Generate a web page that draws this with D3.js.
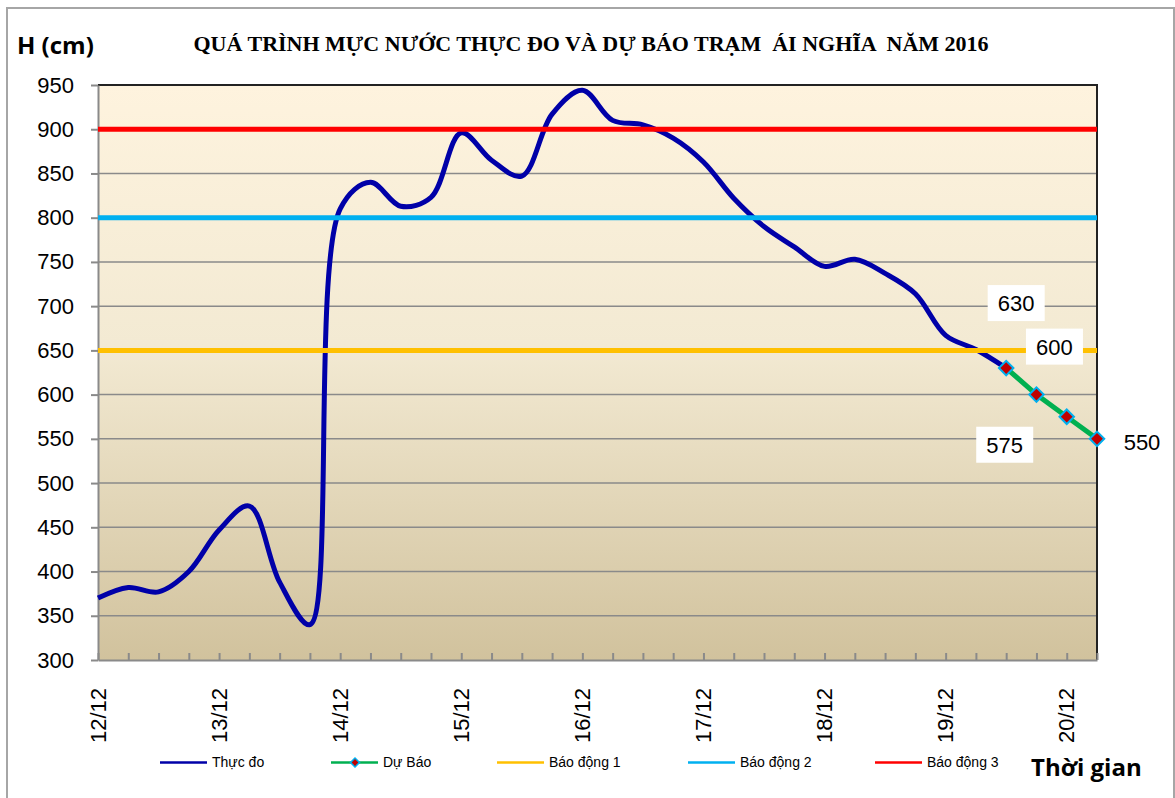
<!DOCTYPE html>
<html>
<head>
<meta charset="UTF-8">
<title>Mực nước Ái Nghĩa 2016</title>
<script src="https://d3js.org/d3.v7.min.js"></script>
<style>
    body { margin: 0; background: #fff; }
    svg text { font-family: "Liberation Sans", Arial, sans-serif; fill: #000; }
    .grid line { stroke: #8a8a8a; stroke-width: 1.5px; }
    .axis path, .axis line { stroke: #8a8a8a; stroke-width: 2px; }
</style>
</head>
<body>
<svg id="chart" width="1175" height="798"></svg>
<script>
    // categories: 4 readings per day, label only at the start of each day
    var categories = ["12/12", "", "", "", "13/12", "", "", "", "14/12", "", "", "", "15/12", "", "", "",
        "16/12", "", "", "", "17/12", "", "", "", "18/12", "", "", "", "19/12", "", "", "", "20/12", ""];
    var thucDo = [370, 382, 377, 400, 447, 474, 388, 340, 810, 840, 813, 823, 896, 865, 847, 917,
        944, 910, 905, 890, 863, 822, 790, 767, 745, 753, 737, 714, 667, 651, 630];
    var duBao = [630, 600, 575, 550];
    var duBaoStart = 30;
    var alarmLevels = [650, 800, 900];
    var alarmNames = ["Báo động 1", "Báo động 2", "Báo động 3"];
    var yTicks = [300, 350, 400, 450, 500, 550, 600, 650, 700, 750, 800, 850, 900, 950];

    var alarmColors = ["#FFC000", "#00B0F0", "#FF0000"];
    var labelDx = [10, 18, -62, 45], labelDy = [-65, -48, 28, 3];

    var svg = d3.select("#chart");
    var pLeft = 98, pRight = 1097, pTop = 85, pBottom = 660;

    var x = d3.scaleLinear().domain([0, categories.length - 1]).range([pLeft, pRight]);
    var y = d3.scaleLinear().domain([300, 950]).range([pBottom, pTop]);

    // outer frame
    svg.append("path")
        .attr("d", "M7,800V8H1174V800")
        .attr("fill", "none").attr("stroke", "#a6a6a6").attr("stroke-width", 2);

    var grad = svg.append("defs").append("linearGradient")
        .attr("id", "bg").attr("x1", 0).attr("y1", 0).attr("x2", 0).attr("y2", 1);
    grad.append("stop").attr("offset", "0%").attr("stop-color", "#FEF3DE");
    grad.append("stop").attr("offset", "45%").attr("stop-color", "#F3EAD3");
    grad.append("stop").attr("offset", "100%").attr("stop-color", "#D1C29D");

    svg.append("rect")
        .attr("x", pLeft).attr("y", pTop)
        .attr("width", pRight - pLeft).attr("height", pBottom - pTop)
        .attr("fill", "url(#bg)");

    // gridlines
    svg.append("g").attr("class", "grid")
        .selectAll("line")
        .data(yTicks.slice(1, -1))
        .enter().append("line")
        .attr("x1", pLeft).attr("x2", pRight)
        .attr("y1", d => y(d)).attr("y2", d => y(d));

    // top / right border
    svg.append("path")
        .attr("d", "M" + pLeft + "," + pTop + "H" + pRight + "V" + pBottom)
        .attr("fill", "none").attr("stroke", "#222").attr("stroke-width", 2);

    // y axis
    var yAxis = svg.append("g").attr("class", "axis")
        .attr("transform", "translate(" + pLeft + ",0)")
        .call(d3.axisLeft(y).tickValues(yTicks).tickSize(7).tickSizeOuter(0).tickPadding(17));
    yAxis.selectAll("text").style("font-size", "22px");

    // x axis, ticks inward
    svg.append("g").attr("class", "axis")
        .attr("transform", "translate(0," + pBottom + ")")
        .call(d3.axisBottom(x).tickValues(d3.range(categories.length)).tickSize(-7).tickSizeOuter(0).tickFormat(""));

    svg.append("g").selectAll("text")
        .data(categories.map((c, i) => ({ c: c, i: i })).filter(d => d.c))
        .enter().append("text")
        .attr("transform", d => "translate(" + x(d.i) + ",688) rotate(-90)")
        .attr("text-anchor", "end")
        .attr("dy", "0.35em")
        .style("font-size", "22px")
        .text(d => d.c);

    var line = d3.line().curve(d3.curveCatmullRom.alpha(0.5));

    // observed
    svg.append("path")
        .attr("d", line(thucDo.map((v, i) => [x(i), y(v)])))
        .attr("fill", "none").attr("stroke", "#0000A8").attr("stroke-width", 5)
        .attr("stroke-linejoin", "round");

    // forecast
    var fc = duBao.map((v, i) => [x(duBaoStart + i), y(v)]);
    svg.append("path")
        .attr("d", d3.line()(fc))
        .attr("fill", "none").attr("stroke", "#00B050").attr("stroke-width", 5);

    // alarm levels
    svg.append("g").selectAll("line")
        .data(alarmLevels)
        .enter().append("line")
        .attr("x1", pLeft).attr("x2", pRight)
        .attr("y1", d => y(d)).attr("y2", d => y(d))
        .attr("stroke", (d, i) => alarmColors[i]).attr("stroke-width", 5);

    var diamond = d3.symbol().type(d3.symbolSquare).size(105);
    svg.append("g").selectAll("path")
        .data(fc)
        .enter().append("path")
        .attr("d", diamond)
        .attr("transform", d => "translate(" + d[0] + "," + d[1] + ") rotate(45)")
        .attr("fill", "#C00000").attr("stroke", "#00B0F0").attr("stroke-width", 2);

    // data labels
    var lab = svg.append("g").selectAll("g")
        .data(duBao)
        .enter().append("g")
        .attr("transform", (d, i) => "translate(" + (fc[i][0] + labelDx[i]) + "," + (fc[i][1] + labelDy[i]) + ")");
    lab.append("rect")
        .attr("x", -28.5).attr("y", -18).attr("width", 57).attr("height", 36)
        .attr("fill", "#fff");
    lab.append("text")
        .attr("text-anchor", "middle").attr("dy", "0.36em")
        .style("font-size", "22px")
        .text(d => d);

    // titles
    svg.append("text")
        .attr("x", 591).attr("y", 51)
        .attr("text-anchor", "middle")
        .attr("xml:space", "preserve")
        .style("font-family", "'Liberation Serif', 'Times New Roman', serif")
        .style("font-weight", "bold").style("font-size", "22px")
        .text("QUÁ TRÌNH MỰC NƯỚC THỰC ĐO VÀ DỰ BÁO TRẠM  ÁI NGHĨA  NĂM 2016");

    svg.append("text")
        .attr("x", 17).attr("y", 54)
        .style("font-family", "'Open Sans', sans-serif")
        .style("font-weight", "bold").style("font-size", "24px")
        .text("H (cm)");

    svg.append("text")
        .attr("x", 1031).attr("y", 776)
        .style("font-family", "'Open Sans', sans-serif")
        .style("font-weight", "bold").style("font-size", "24px")
        .text("Thời gian");

    // legend
    var legendNames = ["Thực đo", "Dự Báo"].concat(alarmNames);
    var legendColors = ["#0000A8", "#00B050"].concat(alarmColors);
    var legendX = [160, 331, 497, 688, 875];
    var lg = svg.append("g").selectAll("g")
        .data(legendNames)
        .enter().append("g")
        .attr("transform", (d, i) => "translate(" + legendX[i] + ",762.5)");
    lg.append("line")
        .attr("x1", 0).attr("x2", 47)
        .attr("stroke", (d, i) => legendColors[i]).attr("stroke-width", 2.5);
    lg.filter((d, i) => i === 1).append("path")
        .attr("d", d3.symbol().type(d3.symbolSquare).size(40))
        .attr("transform", "translate(24,0) rotate(45)")
        .attr("fill", "#C00000").attr("stroke", "#00B0F0").attr("stroke-width", 1.5);
    lg.append("text")
        .attr("x", 52).attr("dy", "0.35em")
        .style("font-size", "14px")
        .text(d => d);
</script>
</body>
</html>
